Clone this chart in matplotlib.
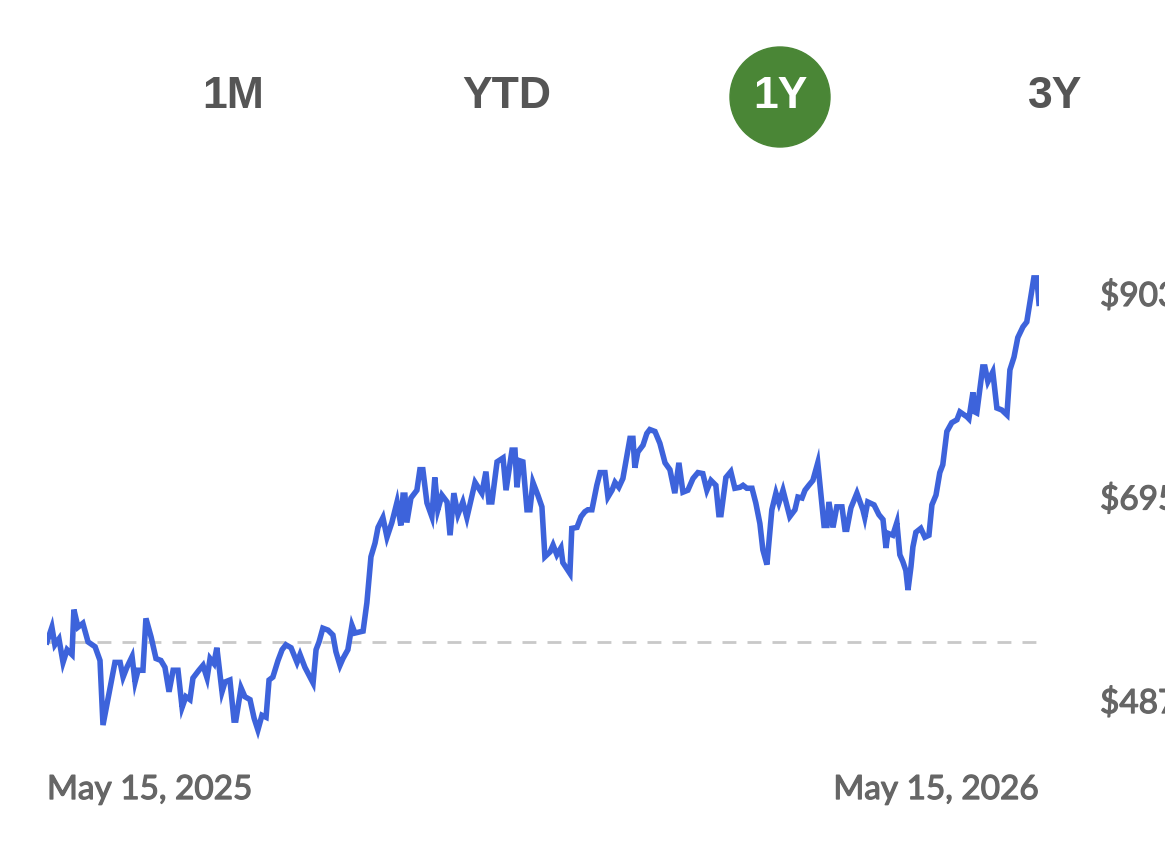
import matplotlib
matplotlib.use("Agg")
import matplotlib.pyplot as plt
from matplotlib.patches import Ellipse
import matplotlib.transforms as transforms
import matplotlib.patheffects as pe

# days since May 15, 2025 and closing price
days = [0.0, 1.8, 2.9, 4.4, 5.9, 7.4, 9.2, 9.9, 11.4, 13.2, 15.1, 17.7, 19.5, 20.6, 22.4,
        25.0, 26.9, 28.0, 29.4, 31.3, 32.4, 33.5, 35.3, 36.4, 38.3, 40.1, 41.9, 43.4, 44.9,
        46.4, 48.2, 49.7, 51.1, 52.6, 53.7, 55.9, 57.4, 58.9, 60.0, 61.4, 62.5, 64.4, 65.5,
        67.3, 68.8, 69.5, 71.4, 72.8, 74.7, 76.2, 77.6, 79.1, 80.6, 81.7, 83.1, 85.0, 86.5,
        87.9, 89.8, 92.0, 93.1, 94.9, 96.8, 97.9, 99.0, 100.1, 101.5, 103.4, 105.2, 106.3,
        107.8, 108.9, 110.7, 112.2, 113.3, 116.3, 117.7, 119.2, 120.7, 121.8, 123.6, 125.1,
        126.9, 128.8, 130.2, 131.0, 131.7, 132.4, 133.9, 136.1, 137.2, 138.3, 139.8, 141.6,
        142.7, 143.8, 145.3, 147.2, 148.3, 149.7, 151.2, 153.0, 154.5, 157.5, 160.0, 161.5,
        162.6, 163.7, 165.6, 167.8, 168.9, 171.1, 172.2, 172.9, 174.0, 175.1, 176.6, 177.7,
        178.8, 180.6, 182.1, 183.2, 185.1, 186.2, 187.6, 189.1, 189.8, 192.4, 193.1, 195.0,
        196.5, 197.9, 199.0, 200.5, 202.3, 203.5, 205.3, 206.4, 207.9, 209.0, 210.4, 211.9,
        214.5, 215.6, 216.3, 217.4, 219.3, 220.7, 221.8, 223.7, 225.5, 227.4, 229.2, 231.0,
        232.5, 234.0, 235.8, 237.7, 239.5, 241.3, 242.8, 244.3, 246.1, 247.2, 248.0, 249.8,
        251.6, 253.1, 255.0, 256.1, 257.5, 259.4, 260.8, 262.3, 263.4, 264.9, 266.7, 268.2,
        269.3, 270.8, 273.3, 275.2, 276.3, 277.8, 278.9, 280.3, 281.8, 283.6, 285.9, 287.0,
        287.7, 289.2, 290.6, 292.5, 293.6, 294.3, 295.8, 298.0, 300.2, 300.9, 302.0, 304.3,
        306.1, 307.6, 308.7, 309.4, 311.2, 312.7, 313.8, 314.9, 316.0, 316.8, 317.9, 318.6,
        319.7, 321.5, 323.0, 324.5, 325.6, 327.1, 328.5, 329.6, 331.1, 332.9, 334.8, 335.9,
        338.5, 339.2, 340.7, 341.4, 342.1, 344.3, 345.1, 346.2, 348.0, 349.5, 351.3, 353.2,
        354.3, 355.8, 357.2, 359.1, 360.5, 363.1, 364.2, 365.0]
price = [550, 565, 547, 553, 529, 542, 537, 583, 565, 569, 550, 545, 531, 465, 491,
         529, 529, 514, 524, 535, 509, 521, 521, 574, 555, 533, 531, 524, 499,
         521, 521, 483, 494, 491, 513, 521, 526, 513, 533, 528, 544, 499, 509,
         511, 470, 470, 503, 494, 491, 472, 460, 475, 473, 511, 514, 531, 542,
         547, 544, 529, 537, 524, 514, 508, 542, 550, 564, 562, 557, 540,
         526, 533, 542, 567, 559, 561, 590, 637, 651, 667, 677, 657,
         672, 693, 669, 700, 700, 672, 697, 705, 726, 726, 692, 678,
         718, 685, 700, 693, 659, 702, 680, 693, 677, 713, 702, 724,
         693, 693, 734, 738, 705, 746, 746, 708, 735, 734, 685, 685,
         713, 700, 688, 637, 642, 649, 639, 646, 631, 620, 666, 667,
         678, 683, 685, 685, 710, 723, 723, 698, 705, 713, 708, 717,
         758, 758, 728, 744, 751, 763, 767, 765, 753, 733, 726, 702,
         733, 703, 705, 717, 723, 722, 705, 715, 710, 680, 680, 718,
         724, 707, 708, 710, 707, 707, 692, 671, 644, 629, 685, 702,
         692, 705, 678, 685, 698, 697, 705, 710, 715, 733, 669, 669,
         693, 667, 688, 688, 665, 665, 687, 702, 685, 677, 693, 690,
         680, 675, 646, 661, 659, 672, 639, 632, 623, 603, 627, 647,
         662, 666, 657, 659, 690, 700, 723, 731, 765, 774, 777, 785,
         780, 778, 805, 785, 784, 831, 831, 816, 826, 789, 787, 782,
         828, 841, 861, 872, 877, 922, 922, 896]

price_ticks = [487, 695, 903]
tabs = ["1M", "YTD", "1Y", "3Y"]
selected_tab = "1Y"
start_label = "May 15, 2025"
end_label = "May 15, 2026"

fig = plt.figure(figsize=(11.65, 8.48), dpi=100)
fig.patch.set_facecolor("white")

# axes spans the plotted line area (pixels 47..1039 horizontally, 200..800 vertically)
ax = fig.add_axes([47 / 1165, 48 / 848, 992 / 1165, 600 / 848])
ax.set_xlim(0, 365)
ax.set_ylim(388.4, 1001.6)
ax.axis("off")

ax.axhline(price[0], color="#c9c9c9", lw=2, linestyle=(0, (5, 4)), zorder=1)
ax.plot(days, price, color="#3d63db", lw=4, solid_joinstyle="miter", zorder=2)

# Lato has no medium weight installed, so thicken the regular a little
grey = "#666666"
thick = [pe.withStroke(linewidth=0.9, foreground=grey)]

# price labels run off the right edge, as in the app screenshot
trans = transforms.blended_transform_factory(ax.transAxes, ax.transData)
for t in price_ticks:
    ax.text(1.0615, t, "${}".format(t), transform=trans, ha="left", va="center",
            fontsize=24, color=grey, family="Lato", clip_on=False,
            path_effects=thick)

ax.text(0, 398.6, start_label, ha="left", va="center", fontsize=24,
        color=grey, family="Lato", path_effects=thick)
ax.text(365, 398.6, end_label, ha="right", va="center", fontsize=24,
        color=grey, family="Lato", path_effects=thick)

# range selector on top
tab_x = [233, 507, 780, 1055]
for name, px in zip(tabs, tab_x):
    fx = px / 1165
    fy = 1 - 97 / 848
    col = "#555555"
    if name == selected_tab:
        fig.patches.append(Ellipse((fx, fy), 100 / 1165, 100 / 848,
                                   transform=fig.transFigure, color="#4a8636",
                                   zorder=0))
        col = "white"
    fig.text(fx, fy, name, ha="center", va="center", fontsize=32,
             fontweight="bold", color=col, family="Liberation Sans")

fig.savefig("out.png", dpi=100)
